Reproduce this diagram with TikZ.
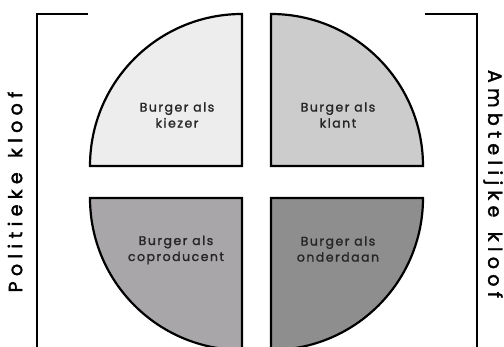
\documentclass[tikz,border=0pt]{standalone}
\usepackage{fontspec}
\setmainfont{Poppins}
\newfontfamily\kloofFont[LetterSpace=28, FakeBold=2]{Poppins}
\newfontfamily\rolFont[LetterSpace=12, FakeBold=1.5]{Poppins}
\usetikzlibrary{positioning}
\definecolor{grKiezer}     {RGB}{237,237,237}
\definecolor{grKlant}      {RGB}{204,204,204}
\definecolor{grCoproducent}{RGB}{168,166,169}
\definecolor{grOnderdaan}  {RGB}{142,142,142}

\begin{document}
\begin{tikzpicture}[
  x=1pt, y=1pt,
  quad/.style = {draw=black, line width=2.2pt, line join=miter},
  bracket/.style = {draw=black, line width=2.6pt, line join=miter},
  rol/.style = {font=\rolFont\fontsize{12.5}{16}\selectfont,
    align=center, text=black!85, inner sep=0pt},
  kloof/.style = {font=\kloofFont\fontsize{19}{20}\selectfont,
    text=black, inner sep=0pt}
]
  \useasboundingbox (0,0) rectangle (504,347);

  % quarter circles
  \filldraw[quad, fill=grKiezer]
    (242,181) -- (90,181) arc[start angle=180, end angle=90, radius=152] -- cycle;
  \filldraw[quad, fill=grKlant]
    (271,181) -- (271,333) arc[start angle=90, end angle=0, radius=152] -- cycle;
  \filldraw[quad, fill=grCoproducent]
    (242,149) -- (90,149) arc[start angle=180, end angle=270, radius=152] -- cycle;
  \filldraw[quad, fill=grOnderdaan]
    (271,149) -- (423,149) arc[start angle=0, end angle=-90, radius=152] -- cycle;

  \node[rol] (kiezer) at (177,232) {Burger als\\kiezer};
  \node[rol] (klant)  at (338,232) {Burger als\\klant};
  \node[rol] (copro)  at (176,97)  {Burger als\\coproducent};
  \node[rol] (onder)  at (338,98)  {Burger als\\onderdaan};

  % brackets
  \draw[bracket] (88,333) -- (37,333) -- (37,-5);
  \draw[bracket] (425,333) -- (477,333) -- (477,-5);

  \node[kloof, rotate=90]  (polk) at (15,155)  {Politieke\hspace{4pt} kloof};
  \node[kloof, rotate=-90] (ambk) at (493,163) {Ambtelijke\hspace{4pt} kloof};
\end{tikzpicture}
\end{document}
